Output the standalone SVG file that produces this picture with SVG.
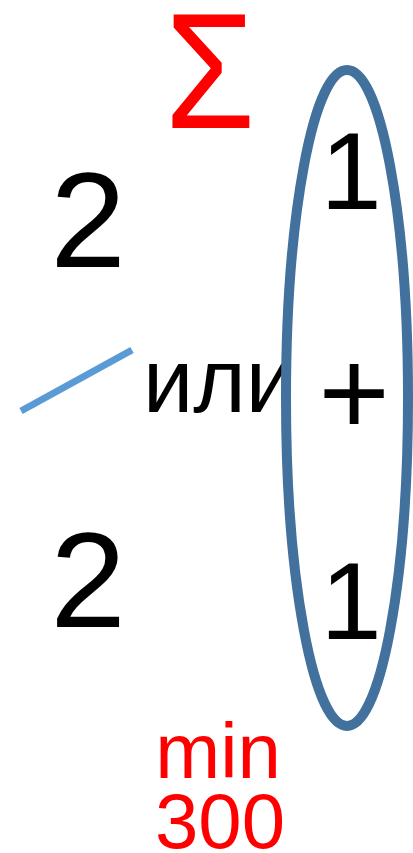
<svg xmlns="http://www.w3.org/2000/svg" width="413" height="853" viewBox="0 0 413 853">
<style>
text{font-family:"Liberation Sans",Arial,sans-serif;text-anchor:middle}
.red{fill:#FF0000}
.blk{fill:#000000}
</style>
<rect width="413" height="853" fill="#FFFFFF"/>
<g id="sigma"><text class="red" x="0" y="128" font-size="166" transform="translate(210 0) scale(0.88 1)">Σ</text></g>
<g id="two-top"><text class="blk" x="88" y="267" font-size="136">2</text></g>
<g id="two-bottom"><text class="blk" x="88" y="627" font-size="136">2</text></g>
<g id="ili"><text class="blk" x="143" y="412" font-size="90" style="text-anchor:start">или</text></g>
<g id="ellipse-group">
<ellipse cx="347" cy="398" rx="61" ry="328" fill="none" stroke="#41719C" stroke-width="10"/>
<text class="blk" x="351" y="209" font-size="110">1</text>
<text class="blk" x="354" y="435" font-size="122">+</text>
<text class="blk" x="351" y="639" font-size="110">1</text>
</g>
<g id="connectors"><line x1="21" y1="411" x2="132" y2="350" stroke="#5B9BD5" stroke-width="7"/></g>
<g id="min"><text class="red" x="218" y="778" font-size="78">min</text><text class="red" x="220" y="848" font-size="78">300</text></g>
</svg>
